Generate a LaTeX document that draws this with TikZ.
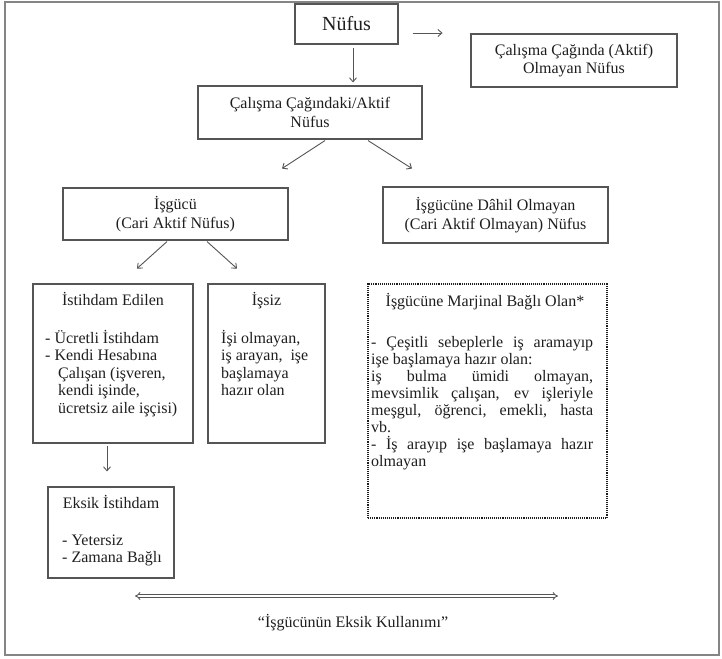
\documentclass[tikz,border=0pt]{standalone}
\usepackage{fontspec}
\setmainfont{Liberation Serif}
\usetikzlibrary{arrows.meta,calc}
\definecolor{txtc}{HTML}{1E1E1E}
\definecolor{lnc}{HTML}{555555}
\definecolor{frmc}{HTML}{858585}
\begin{document}
\begin{tikzpicture}[x=1pt,y=-1pt,
 box/.style={draw=lnc, line width=1.1pt, inner sep=0pt, text=txtc, align=center, font=\fontsize{16}{18.5}\selectfont},
 arr/.style={draw=lnc, line width=0.9pt, -{Straight Barb[length=4pt,width=7pt]}},
 txtnode/.style={inner sep=0pt, text=txtc, font=\fontsize{16}{17.5}\selectfont}]
\useasboundingbox (0,0) rectangle (722,658);
\draw[frmc, line width=2pt] (5,2) rectangle (719,655);

\node[box, minimum width=103pt, minimum height=40pt, font=\fontsize{20}{22}\selectfont] (nufus) at (346.5,24) {Nüfus};
\node[box, minimum width=206pt, minimum height=53pt] (cal) at (574,60.5) {Çalışma Çağında (Aktif)\\Olmayan Nüfus};
\node[box, minimum width=224pt, minimum height=53pt] (aktif) at (310,112.5) {Çalışma Çağındaki/Aktif\\Nüfus};
\node[box, minimum width=225pt, minimum height=52pt] (isgucu) at (175.5,214) {İşgücü\\(Cari Aktif Nüfus)};
\node[box, minimum width=225pt, minimum height=56pt] (dahil) at (495.5,215) {İşgücüne Dâhil Olmayan\\(Cari Aktif Olmayan) Nüfus};
\node[box, minimum width=160pt, minimum height=159pt] (istihdam) at (113,363.5) {};
\node[box, minimum width=117pt, minimum height=159pt] (issiz) at (266.5,363.5) {};
\node[box, minimum width=126pt, minimum height=91pt] (eksik) at (111,532.5) {};
\node[box, draw=txtc, densely dotted, line width=1.6pt, minimum width=239pt, minimum height=234pt] (marj) at (487.5,401) {};

\node[txtnode, anchor=base] (istt) at (113,305) {İstihdam Edilen};
\node[txtnode, anchor=base west] (istb) at (45,343) {\parbox[t]{145pt}{\raggedright - Ücretli İstihdam\\- Kendi Hesabına\\\hspace*{13pt}Çalışan (işveren,\\\hspace*{13pt}kendi işinde,\\\hspace*{13pt}ücretsiz aile işçisi)}};

\node[txtnode, anchor=base] (isst) at (266.5,305) {İşsiz};
\node[txtnode, anchor=base west] (issb) at (221,343) {\parbox[t]{100pt}{\raggedright İşi olmayan,\\iş arayan,\ \ işe\\başlamaya\\hazır olan}};

\node[txtnode, anchor=base] (ekst) at (111,508) {Eksik İstihdam};
\node[txtnode, anchor=base west] (eksb) at (62,545) {\parbox[t]{110pt}{\raggedright - Yetersiz\\- Zamana Bağlı}};

\node[txtnode, anchor=base] (marjt) at (485,306) {İşgücüne Marjinal Bağlı Olan*};
\node[txtnode, anchor=base west, font=\fontsize{16}{17}\selectfont] (marjb) at (371,347) {\parbox[t]{222pt}{\raggedright
\makebox[222pt][s]{- Çeşitli sebeplerle iş aramayıp}\\
işe başlamaya hazır olan:\\
\makebox[222pt][s]{iş bulma ümidi olmayan,}\\
\makebox[222pt][s]{mevsimlik çalışan, ev işleriyle}\\
\makebox[222pt][s]{meşgul, öğrenci, emekli, hasta}\\
vb.\\
\makebox[222pt][s]{- İş arayıp işe başlamaya hazır}\\
olmayan}};

\draw[arr] ($(nufus.east)+(14,9)$) -- ++(30,0);
\draw[arr] ($(nufus.south)+(6.5,3)$) -- ($(aktif.north)+(43,-3)$);
\draw[arr] ($(aktif.south)+(15,1)$) -- ++(-43,28);
\draw[arr] ($(aktif.south)+(58,1)$) -- ++(44,28);
\draw[arr] ($(isgucu.south)+(-8.5,1)$) -- ++(-30,27);
\draw[arr] ($(isgucu.south)+(31.5,1)$) -- ++(30,27);
\draw[arr] ($(istihdam.south)+(-6,2)$) -- ($(eksik.north)+(-4,-15)$);

\coordinate (dl) at (135,596);
\coordinate (dr) at (558,596);
\draw[draw=lnc, double, double distance=1.8pt, line width=0.85pt, {Implies[length=2.5pt]}-{Implies[length=2.5pt]}] (dl) -- (dr);
\node[txtnode, anchor=base] (eku) at (353,627) {“İşgücünün Eksik Kullanımı”};
\end{tikzpicture}
\end{document}
